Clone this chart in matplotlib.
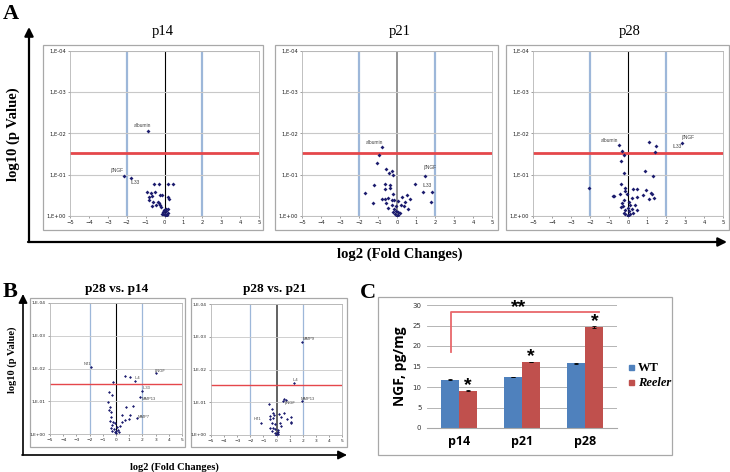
import matplotlib
matplotlib.use("Agg")
import matplotlib.pyplot as plt
import numpy as np
from matplotlib.patches import Rectangle

# ---- data: log2 fold change and -log10(p) ----
# the first points of each panel are the labelled ones (names in *_NAMES)
P14_FC = [-0.87, -2.16, -1.79, -0.58, -0.31, 0.21, 0.47, -0.91, -0.72, -0.49, -0.80,
          -0.66, -0.26, -0.14, 0.17, 0.26, -0.84, -0.63, -0.37, -0.28, -0.23, -0.45,
          -0.66, -0.19, -0.03, 0.07, 0.17, -0.07, 0.03, 0.10, -0.10, 0.00, 0.14,
          -0.05, -0.14, 0.09, 0.17]
P14_NLP = [2.06, 0.976, 0.91, 0.77, 0.77, 0.77, 0.78, 0.57, 0.56, 0.59, 0.47, 0.48,
           0.52, 0.50, 0.47, 0.40, 0.39, 0.35, 0.35, 0.31, 0.27, 0.27, 0.25, 0.21,
           0.15, 0.16, 0.17, 0.10, 0.06, 0.11, 0.05, 0.02, 0.03, 0.13, 0.05, 0.02, 0.08]
P14_NAMES = ["albumin", "βNGF", "IL33"]

P21_FC = [-0.81, 1.46, 1.39, -0.95, -1.05, -0.56, -0.26, -0.42, -0.23, 0.95, 1.79,
          1.86, -1.21, -1.67, -1.25, -0.61, -0.35, -0.65, -0.37, -0.77, -0.63, -0.46,
          -0.23, -0.58, -0.28, -0.14, 0.07, 0.28, 0.54, 0.68, 0.44, 0.21, 0.37, 0.60,
          -0.46, -0.28, -0.16, -0.05, -0.04, 0.07, -0.11, 0.04, 0.16, -0.19, 0.00]
P21_NLP = [1.68, 0.98, 0.59, 1.48, 1.29, 1.13, 1.10, 1.03, 1.00, 0.77, 0.35, 0.59,
           0.74, 0.55, 0.32, 0.77, 0.74, 0.66, 0.67, 0.41, 0.41, 0.43, 0.53, 0.31,
           0.39, 0.38, 0.36, 0.45, 0.50, 0.40, 0.35, 0.26, 0.23, 0.16, 0.19, 0.26,
           0.16, 0.23, 0.13, 0.10, 0.06, 0.02, 0.08, 0.10, 0.00]
P21_NAMES = ["albumin", "βNGF", "IL33"]

P28_FC = [-0.49, 2.84, 1.11, 1.49, 1.42, -0.33, -0.21, -0.35, -0.23, 0.91, 1.33,
          -2.07, -0.35, -0.16, -0.14, -0.05, 0.26, 0.49, 0.93, -0.81, -0.72, -0.40,
          0.46, 0.81, 1.21, 1.26, 1.11, 1.39, 0.23, -0.19, -0.33, 0.07, -0.35, -0.26,
          0.12, 0.39, 0.21, 0.46, -0.02, -0.14, 0.07, -0.14, -0.02, 0.11, 0.25,
          -0.23, 0.02]
P28_NLP = [1.73, 1.77, 1.79, 1.69, 1.55, 1.58, 1.48, 1.34, 1.05, 1.09, 0.96, 0.68,
           0.77, 0.67, 0.60, 0.53, 0.65, 0.65, 0.64, 0.49, 0.49, 0.53, 0.46, 0.50,
           0.56, 0.53, 0.41, 0.44, 0.44, 0.38, 0.31, 0.34, 0.21, 0.24, 0.27, 0.27,
           0.18, 0.14, 0.19, 0.15, 0.11, 0.06, 0.03, 0.06, 0.08, 0.07, 0.00]
P28_NAMES = ["albumin", "βNGF"]

V14_FC = [-1.90, 3.02, 1.45, 1.98, 1.83, 1.62, 0.66, 1.07, -0.23, -0.53, -0.30,
          -0.63, -0.43, -0.51, -0.41, 0.76, 1.29, 0.48, 1.09, 0.96, 0.66, -0.36,
          -0.43, -0.25, -0.10, 0.46, 0.10, 0.30, -0.28, -0.15, -0.03, 0.15, 0.00,
          -0.10, 0.25, -0.36, -0.30]
V14_NLP = [2.04, 1.85, 1.62, 1.31, 1.14, 0.48, 1.76, 1.74, 1.59, 1.27, 1.18, 0.98,
           0.82, 0.73, 0.68, 0.82, 0.84, 0.57, 0.58, 0.45, 0.44, 0.53, 0.40, 0.37,
           0.33, 0.37, 0.20, 0.24, 0.27, 0.14, 0.10, 0.12, 0.02, 0.06, 0.05, 0.19, 0.10]
V14_NAMES = ["NT1", "βNGF", "IL4", "IL33", "MMP13", "MMP7"]

V21_FC = [1.91, 1.32, 1.91, 0.69, -1.17, 0.56, 0.46, -0.61, -0.33, -0.28, -0.51,
          -0.20, 0.20, 0.56, 0.31, 0.79, 1.12, 1.07, 1.14, -0.46, -0.25, -0.38,
          -0.15, 0.25, 0.31, -0.46, -0.25, -0.08, 0.10, -0.33, 0.00, -0.15, 0.10,
          -0.03, 0.15]
V21_NLP = [2.85, 1.58, 1.04, 1.07, 0.36, 1.09, 1.03, 0.94, 0.79, 0.68, 0.59, 0.61,
           0.63, 0.66, 0.54, 0.50, 0.54, 0.41, 0.36, 0.48, 0.51, 0.38, 0.34, 0.36,
           0.26, 0.20, 0.20, 0.17, 0.15, 0.13, 0.07, 0.05, 0.03, 0.00, 0.10]
V21_NAMES = ["MMP9", "IL4", "MMP13", "βNGF", "HT1"]

P_THRESHOLD = 0.03

# ---- data: NGF ELISA ----
AGES = ["p14", "p21", "p28"]
NGF_WT = [11.8, 12.4, 15.8]
NGF_REELER = [9.1, 16.1, 24.7]
ERR_WT = [0.1, 0.05, 0.1]
ERR_REELER = [0.1, 0.1, 0.2]

W, H = 730, 472
SERIF = "Liberation Serif"
SANS = "Liberation Sans"
DOT = "#1c1c6e"

fig = plt.figure(figsize=(W / 100, H / 100), dpi=100)

# overlay in pixel coordinates for frames, arrows and big labels
over = fig.add_axes([0, 0, 1, 1], zorder=0)
over.set_xlim(0, W)
over.set_ylim(H, 0)
over.axis("off")


def rect(x0, y0, x1, y1):
    return [x0 / W, 1 - y1 / H, (x1 - x0) / W, (y1 - y0) / H]


def frame(x0, y0, x1, y1):
    over.add_patch(Rectangle((x0, y0), x1 - x0, y1 - y0, fill=False,
                             ec="#a8a8a8", lw=0.9))


def arrow(x0, y0, x1, y1, lw=1.6):
    over.annotate("", xy=(x1, y1), xytext=(x0, y0),
                  arrowprops=dict(arrowstyle="-|>", color="black", lw=lw,
                                  mutation_scale=13, shrinkA=0, shrinkB=0))


def volcano(box, fc, nlp, names, offsets, small=False, zero_color="black"):
    ax = fig.add_axes(rect(*box), zorder=2)
    fs = 3.2 if small else 3.8
    ax.set_xlim(-5, 5)
    ax.set_ylim(0, 4)
    ax.set_xticks(range(-5, 6))
    ax.set_yticks(range(5))
    ax.set_yticklabels(["1,E+00", "1,E-01", "1,E-02", "1,E-03", "1,E-04"])
    ax.tick_params(labelsize=fs, length=1.5, width=0.4, pad=1.5,
                   colors="#555555", labelcolor="#222222")
    for s in ax.spines.values():
        s.set_color("#b5b5b5")
        s.set_linewidth(0.6)
    ax.grid(axis="y", color="#c8c8c8", lw=0.8 if not small else 0.6)
    lw_blue = 1.6 if not small else 0.9
    for v in (-2, 2):
        ax.axvline(v, color="#9db7d9", lw=lw_blue, zorder=1)
    ax.axvline(0, color=zero_color, lw=0.8 if zero_color == "black" else 1.3,
               zorder=1)
    ax.axhline(-np.log10(P_THRESHOLD), color="#e5474b",
               lw=2.0 if not small else 1.0, zorder=1)
    ax.scatter(fc, nlp, s=4 if not small else 2.2, marker="D", color=DOT,
               lw=0, zorder=3)
    for i, name in enumerate(names):
        dx, dy = offsets[name]
        ax.text(fc[i] + dx, nlp[i] + dy, name, fontsize=fs - 0.3,
                family=SANS, color="#444444", ha="center", va="center")
    return ax


# ---------------- panel A ----------------
frame(43, 45, 263, 230)
frame(275, 45, 498, 230)
frame(506, 45, 729, 230)
volcano((70, 50.7, 259, 216), P14_FC, P14_NLP, P14_NAMES,
        {"albumin": (-0.3, 0.12), "βNGF": (-0.33, 0.12), "IL33": (0.25, -0.11)})
volcano((302, 50.7, 492, 216), P21_FC, P21_NLP, P21_NAMES,
        {"albumin": (-0.4, 0.10), "βNGF": (0.28, 0.19), "IL33": (0.2, 0.14)},
        zero_color="#8a8a8a")
ax28 = volcano((533, 50.7, 723, 216), P28_FC, P28_NLP, P28_NAMES,
               {"albumin": (-0.5, 0.09), "βNGF": (0.33, 0.13)})
ax28.text(P28_FC[1] - 0.28, P28_NLP[1] - 0.10, "IL33", fontsize=3.5, family=SANS,
          color="#444444", ha="center", va="center")

for cx, t in [(163, "p14"), (400, "p21"), (630, "p28")]:
    over.text(cx, 32, t, fontsize=10.5, family=SERIF, ha="center", va="center")

arrow(29, 242, 29, 27)
arrow(28, 242, 727, 242)
over.text(13, 134, "log10 (p Value)", fontsize=10.5, family=SERIF,
          fontweight="bold", rotation=90, ha="center", va="center")
over.text(400, 254, "log2 (Fold Changes)", fontsize=10.5, family=SERIF,
          fontweight="bold", ha="center", va="center")
over.text(11, 14, "A", fontsize=16, family=SERIF, fontweight="bold",
          ha="center", va="center")

# ---------------- panel B ----------------
frame(30, 298, 185, 447)
frame(191, 298, 347, 447)
volcano((50, 303, 182, 434), V14_FC, V14_NLP, V14_NAMES,
        {"NT1": (-0.26, 0.09), "βNGF": (0.33, 0.08), "IL4": (0.2, 0.09),
         "IL33": (0.3, 0.08), "MMP13": (0.63, -0.08), "MMP7": (0.5, 0.04)},
        small=True)
volcano((211, 304, 342, 435), V21_FC, V21_NLP, V21_NAMES,
        {"MMP9": (0.56, 0.08), "IL4": (0.15, 0.09), "MMP13": (0.48, 0.07),
         "βNGF": (0.33, -0.08), "HT1": (-0.31, 0.12)},
        small=True, zero_color="#555555")

over.text(117, 289, "p28 vs. p14", fontsize=9.5, family=SERIF,
          fontweight="bold", ha="center", va="center")
over.text(275, 289, "p28 vs. p21", fontsize=9.5, family=SERIF,
          fontweight="bold", ha="center", va="center")
arrow(23, 455, 23, 294, lw=1.2)
arrow(22, 455, 347, 455, lw=1.2)
over.text(12, 360, "log10 (p Value)", fontsize=7.5, family=SERIF,
          fontweight="bold", rotation=90, ha="center", va="center")
over.text(174, 467, "log2 (Fold Changes)", fontsize=7.5, family=SERIF,
          fontweight="bold", ha="center", va="center")
over.text(10, 292, "B", fontsize=16, family=SERIF, fontweight="bold",
          ha="center", va="center")

# ---------------- panel C ----------------
frame(378, 297, 672, 455)
over.text(368, 293, "C", fontsize=16, family=SERIF, fontweight="bold",
          ha="center", va="center")

axc = fig.add_axes(rect(427, 305, 617, 428), zorder=2)
x = np.arange(len(AGES)) + 0.5
bw = 0.285
axc.bar(x - bw / 2, NGF_WT, bw, color="#4f81bd", yerr=ERR_WT,
        error_kw=dict(lw=0.6, capsize=1.5, capthick=0.6), label="WT", zorder=2)
axc.bar(x + bw / 2, NGF_REELER, bw, color="#c0504d", yerr=ERR_REELER,
        error_kw=dict(lw=0.6, capsize=1.5, capthick=0.6), label="Reeler",
        zorder=2)
axc.set_xlim(0, 3)
axc.set_ylim(0, 30)
axc.set_yticks(range(0, 31, 5))
axc.set_xticks(x)
axc.set_xticklabels(AGES, fontsize=9, fontweight="bold", family="Open Sans")
axc.tick_params(axis="y", labelsize=5, length=0, pad=4, labelcolor="#333333")
axc.tick_params(axis="x", length=0, pad=5)
axc.grid(axis="y", color="#a8a8a8", lw=0.6, zorder=0)
for name, s in axc.spines.items():
    s.set_visible(name == "bottom")
axc.spines["bottom"].set_color("#a8a8a8")
axc.set_ylabel("NGF, pg/mg", fontsize=10, fontweight="bold", family="Open Sans",
               labelpad=4)

# significance marks
for xi, v in zip(x, NGF_REELER):
    axc.text(xi + bw / 2, v + 1.2, "*", fontsize=14, fontweight="bold",
             ha="center", va="center", family=SANS)
axc.plot([0.38, 0.38, 2.72], [18.6, 28.4, 28.4], color="#e8686b", lw=1.3,
         clip_on=False, zorder=3)
axc.text(1.45, 29.4, "**", fontsize=14, fontweight="bold", ha="center",
         va="center", family=SANS, clip_on=False)

# legend
over.add_patch(Rectangle((629, 365), 5, 5, color="#4f81bd"))
over.add_patch(Rectangle((629, 380), 5, 5, color="#c0504d"))
over.text(638, 368, "WT", fontsize=9, family=SERIF, fontweight="bold",
          va="center")
over.text(638, 383, "Reeler", fontsize=9, family=SERIF, fontweight="bold",
          style="italic", va="center")

fig.savefig("out.png", dpi=100)
